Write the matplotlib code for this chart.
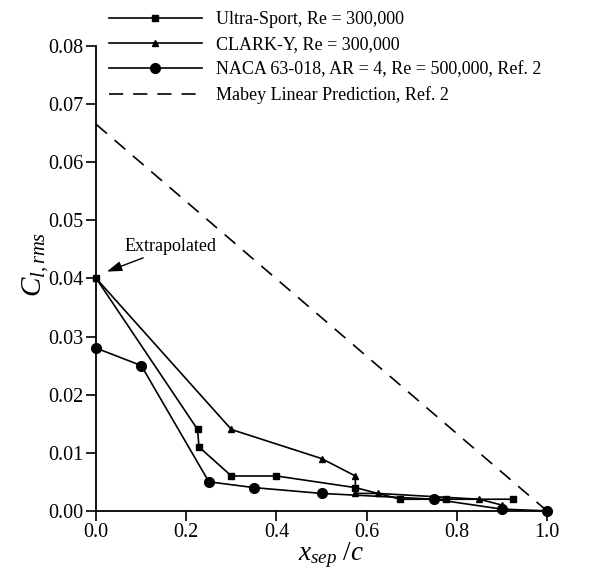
import numpy as np
import matplotlib
matplotlib.use("Agg")
import matplotlib.pyplot as plt

plt.rcParams['font.family'] = ['Liberation Serif', 'DejaVu Serif']
plt.rcParams['mathtext.fontset'] = 'custom'
plt.rcParams['mathtext.rm'] = 'Liberation Serif'
plt.rcParams['mathtext.it'] = 'Liberation Serif:italic'

# data
ultra_x = [0.0, 0.225, 0.228, 0.30, 0.40, 0.575, 0.675, 0.775, 0.925]
ultra_y = [0.040, 0.014, 0.011, 0.006, 0.006, 0.004, 0.002, 0.002, 0.002]

clark_x = [0.0, 0.30, 0.50, 0.575, 0.575, 0.625, 0.85, 0.90]
clark_y = [0.040, 0.014, 0.009, 0.006, 0.003, 0.003, 0.002, 0.001]

naca_x = [0.0, 0.10, 0.25, 0.35, 0.50, 0.75, 0.90, 1.0]
naca_y = [0.028, 0.025, 0.005, 0.004, 0.003, 0.002, 0.0003, 0.0]

mabey_x = [0.0, 1.0]
mabey_y = [0.0665, 0.0]

labels = ['Ultra-Sport, Re = 300,000',
          'CLARK-Y, Re = 300,000',
          'NACA 63-018, AR = 4, Re = 500,000, Ref. 2',
          'Mabey Linear Prediction, Ref. 2']

fig = plt.figure(figsize=(6.05, 5.74), dpi=100)
ax = fig.add_axes([0.159, 0.110, 0.745, 0.810])

lw = 1.2
ax.plot(ultra_x, ultra_y, color='black', lw=lw, marker='s', ms=4.5, label=labels[0], clip_on=False, zorder=3)
ax.plot(clark_x, clark_y, color='black', lw=lw, marker='^', ms=5, label=labels[1], clip_on=False, zorder=3)
ax.plot(naca_x, naca_y, color='black', lw=lw, marker='o', ms=7, label=labels[2], clip_on=False, zorder=3)
ax.plot(mabey_x, mabey_y, color='black', lw=lw, dashes=(8.5, 6), label=labels[3], clip_on=False)

ax.set_xlim(0, 1.0)
ax.set_ylim(0, 0.08)
ax.set_xticks(np.arange(0, 1.01, 0.2))
ax.set_yticks(np.arange(0, 0.081, 0.01))
ax.xaxis.set_major_formatter(matplotlib.ticker.FormatStrFormatter('%.1f'))
ax.yaxis.set_major_formatter(matplotlib.ticker.FormatStrFormatter('%.2f'))
ax.tick_params(direction='out', length=7, width=1.2, labelsize=14.5, colors='black', pad=2)

ax.spines['top'].set_visible(False)
ax.spines['right'].set_visible(False)
ax.spines['left'].set_linewidth(1.3)
ax.spines['bottom'].set_linewidth(1.3)

ax.set_xlabel(r'$x_{sep}\ /c$', fontsize=19.5)
ax.xaxis.set_label_coords(0.52, -0.063)
ax.set_ylabel(r'$C_{l,rms}$', fontsize=21)
ax.yaxis.set_label_coords(-0.10, 0.53)

ax.text(0.164, 0.0455, 'Extrapolated', fontsize=13, ha='center', va='center')
ax.annotate('', xy=(0.018, 0.041), xytext=(0.11, 0.0437),
            arrowprops=dict(arrowstyle='-|>,head_length=0.9,head_width=0.3', color='black', lw=1))

fig.legend(loc='upper left', bbox_to_anchor=(0.160, 1.003), frameon=False,
           fontsize=13, handlelength=5.1, handletextpad=0.8, labelspacing=0.45,
           borderaxespad=0.3)

fig.savefig('out.png', dpi=100)
